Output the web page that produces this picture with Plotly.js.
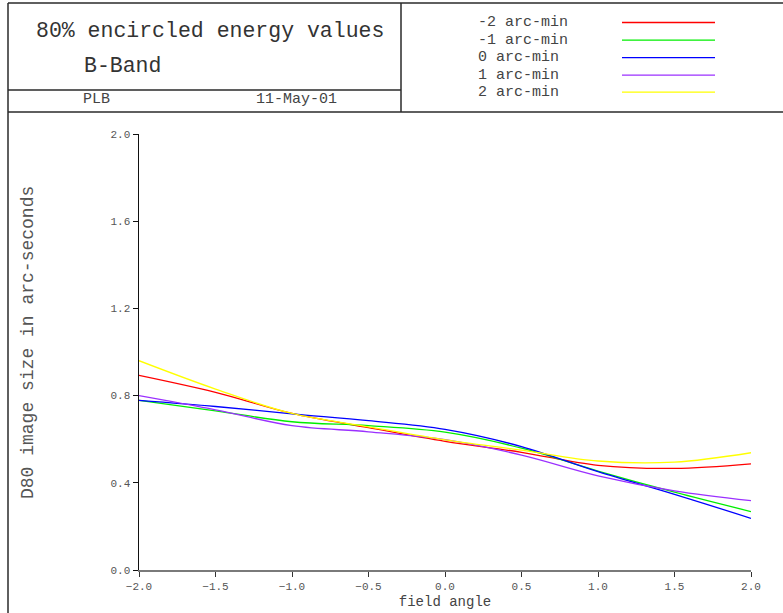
<!DOCTYPE html>
<html>
<head>
<meta charset="utf-8">
<script src="https://cdn.plot.ly/plotly-3.0.1.min.js"></script>
<style>
  html, body { margin: 0; padding: 0; background: #fff; }
  #chart { width: 783px; height: 613px; }
</style>
</head>
<body>
<div id="chart"></div>
<script>
// Field angle (arc-min) at which D80 was evaluated
const fieldAngle = [-2.0, -1.5, -1.0, -0.5, 0.0, 0.5, 1.0, 1.5, 2.0];

// D80 image size (arc-seconds), one array per focal offset
const d80Minus2 = [0.893, 0.815, 0.718, 0.653, 0.590, 0.540, 0.480, 0.466, 0.487];
const d80Minus1 = [0.778, 0.730, 0.680, 0.662, 0.632, 0.559, 0.454, 0.357, 0.268];
const d80Zero   = [0.778, 0.750, 0.716, 0.685, 0.645, 0.566, 0.451, 0.347, 0.237];
const d80Plus1  = [0.800, 0.735, 0.662, 0.634, 0.598, 0.527, 0.432, 0.363, 0.318];
const d80Plus2  = [0.960, 0.830, 0.718, 0.657, 0.597, 0.550, 0.500, 0.495, 0.538];

const seriesNames  = ['-2 arc-min', '-1 arc-min', '0 arc-min', '1 arc-min', '2 arc-min'];
const seriesValues = [d80Minus2, d80Minus1, d80Zero, d80Plus1, d80Plus2];
const seriesColors = ['#ff0000', '#00ee00', '#0000ff', '#9b30ff', '#ffff00'];

const xTicks = [-2.0, -1.5, -1.0, -0.5, 0.0, 0.5, 1.0, 1.5, 2.0];
const yTicks = [0.0, 0.4, 0.8, 1.2, 1.6, 2.0];

const titleText = '80% encircled energy values';
const bandText  = 'B-Band';
const authorText = 'PLB';
const dateText  = '11-May-01';
const xTitle = 'field angle';
const yTitle = 'D80 image size in arc-seconds';

// page geometry (pixels)
const W = 783, H = 613;
const M = { l: 139, r: 32, t: 134, b: 43 };
const plotW = W - M.l - M.r, plotH = H - M.t - M.b;
const px = v => (v - M.l) / plotW;          // page x pixel -> paper x
const py = v => (H - M.b - v) / plotH;      // page y pixel -> paper y

const FONT = '"Liberation Mono", "Courier New", monospace';

const traces = seriesValues.map((vals, i) => ({
  type: 'scatter',
  mode: 'lines',
  name: seriesNames[i],
  x: fieldAngle,
  y: vals,
  line: { color: seriesColors[i], width: 1.3, shape: 'spline', smoothing: 1 },
  hoverinfo: 'x+y+name'
}));

// frame of the header block
const frame = '#2a2a2a';
const shapes = [
  { x0: px(8),   x1: px(W),   y0: py(3),   y1: py(3) },
  { x0: px(8),   x1: px(8),   y0: py(3),   y1: py(H) },
  { x0: px(401), x1: px(401), y0: py(3),   y1: py(112) },
  { x0: px(8),   x1: px(401), y0: py(90),  y1: py(90) },
  { x0: px(8),   x1: px(W),   y0: py(112), y1: py(112) }
].map(s => Object.assign({ type: 'line', xref: 'paper', yref: 'paper',
  line: { color: frame, width: 1.5 } }, s));

const annotations = [
  { text: titleText,  x: px(34),  y: py(31),  size: 21.5, color: '#333' },
  { text: bandText,   x: px(82),  y: py(66),  size: 21.5, color: '#333' },
  { text: authorText, x: px(81),  y: py(100), size: 15, color: '#444' },
  { text: dateText,   x: px(254), y: py(100), size: 15, color: '#444' }
].map(a => ({ xref: 'paper', yref: 'paper', x: a.x, y: a.y, text: a.text,
  xanchor: 'left', yanchor: 'middle', showarrow: false,
  font: { family: FONT, size: a.size, color: a.color } }));

// vertical axis caption
annotations.push({ xref: 'paper', yref: 'paper', x: px(28), y: py(343),
  text: yTitle, textangle: -90, xanchor: 'center', yanchor: 'middle', showarrow: false,
  font: { family: FONT, size: 18, color: '#555' } });

// key: name on the left, line sample on the right
const keyRows = [22.5, 40.2, 57.6, 75.2, 92.2];
seriesNames.forEach((name, i) => {
  annotations.push({ xref: 'paper', yref: 'paper', x: px(476), y: py(keyRows[i]),
    text: name, xanchor: 'left', yanchor: 'middle', showarrow: false,
    font: { family: FONT, size: 15, color: '#444' } });
  shapes.push({ type: 'line', xref: 'paper', yref: 'paper',
    x0: px(622), x1: px(715), y0: py(keyRows[i]), y1: py(keyRows[i]),
    line: { color: seriesColors[i], width: 1.3 } });
});

const layout = {
  width: W, height: H,
  margin: M,
  paper_bgcolor: '#fff', plot_bgcolor: '#fff',
  showlegend: false,
  font: { family: FONT, color: '#555' },
  xaxis: {
    range: [-2, 2], tickvals: xTicks, tickformat: '.1f',
    showgrid: false, zeroline: false,
    showline: true, linecolor: '#7a7a7a', linewidth: 2,
    ticks: 'outside', ticklen: 5, tickcolor: '#333', tickwidth: 1,
    tickfont: { family: FONT, size: 11, color: '#555' },
    title: { text: xTitle, font: { family: FONT, size: 14, color: '#444' }, standoff: 4 }
  },
  yaxis: {
    range: [0, 2], tickvals: yTicks, tickformat: '.1f',
    showgrid: false, zeroline: false,
    showline: true, linecolor: '#111', linewidth: 1.5,
    ticks: 'outside', ticklen: 5, tickcolor: '#111', tickwidth: 1,
    tickfont: { family: FONT, size: 11, color: '#555' }
  },
  shapes: shapes,
  annotations: annotations
};

Plotly.newPlot('chart', traces, layout, { displayModeBar: false, staticPlot: true });
</script>
</body>
</html>
